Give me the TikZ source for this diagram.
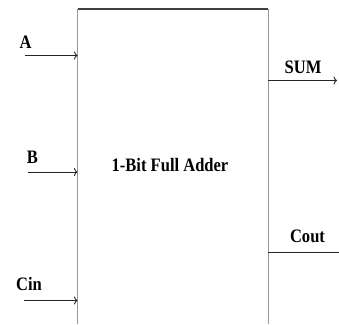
\documentclass[tikz,border=0pt]{standalone}
\usepackage{fontspec}
\setmainfont{Liberation Serif}
\usetikzlibrary{arrows.meta}
\newcommand{\blbl}[1]{\scalebox{0.87}[1]{\fontsize{19}{19}\selectfont\bfseries #1}}
\tikzset{
  wire/.style={line width=0.9pt, black!85},
  inwire/.style={wire, -{To[length=3.5pt,width=8pt]}},
  lbl/.style={inner sep=0pt, text=black},
  boxside/.style={line width=1pt, black!40},
  boxtop/.style={line width=1.4pt, black!75},
}
\begin{document}
\begin{tikzpicture}[x=1pt,y=-1pt]
\useasboundingbox (0,0) rectangle (339,324);
% box corners
\coordinate (tl) at (77.5,9);
\coordinate (tr) at (268,9);
\coordinate (bl) at (77.5,324);
\coordinate (br) at (268,324);
\draw[boxside] (bl) -- (tl);
\draw[boxside] (br) -- (tr);
\draw[boxtop] (tl) -- (tr);
\node[lbl] (title) at (170,165) {\blbl{1-Bit Full Adder}};
% inputs
\coordinate (a0) at (25,55.5);
\coordinate (a1) at (77.5,55.5);
\coordinate (b0) at (28,172);
\coordinate (b1) at (77.5,172);
\coordinate (c0) at (24,300.5);
\coordinate (c1) at (77.5,300.5);
\draw[inwire] (a0) -- (a1);
\draw[inwire] (b0) -- (b1);
\draw[inwire] (c0) -- (c1);
\node[lbl] (la) at (25.5,42) {\blbl{A}};
\node[lbl] (lb) at (32.5,157) {\blbl{B}};
\node[lbl] (lc) at (29,284) {\blbl{Cin}};
% outputs
\coordinate (s0) at (268,80.5);
\coordinate (s1) at (337,80.5);
\coordinate (o0) at (268,252.5);
\coordinate (o1) at (339,252.5);
\draw[inwire] (s0) -- (s1);
\draw[wire] (o0) -- (o1);
\node[lbl] (ls) at (303,67) {\blbl{SUM}};
\node[lbl] (lo) at (307.5,236) {\blbl{Cout}};
\end{tikzpicture}
\end{document}
